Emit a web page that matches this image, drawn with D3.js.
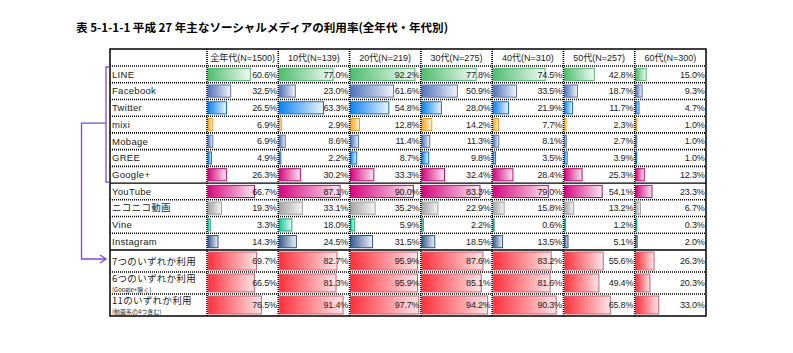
<!DOCTYPE html>
<html>
<head>
<meta charset="utf-8">
<title>ソーシャルメディアの利用率</title>
<script src="https://cdn.jsdelivr.net/npm/d3@7/dist/d3.min.js"></script>
<style>
  body { margin: 0; background: #fff; }
  text { font-family: "Liberation Sans", "Noto Sans CJK JP", sans-serif; fill: #222; }
  .jp { font-family: "Noto Sans CJK JP", sans-serif; }
</style>
</head>
<body>
<div class="container"></div>
<script>

// ---- data ----
var titleText = "表 5-1-1-1  平成 27 年主なソーシャルメディアの利用率(全年代・年代別)";
var columns = ["全年代(N=1500)", "10代(N=139)", "20代(N=219)", "30代(N=275)", "40代(N=310)", "50代(N=257)", "60代(N=300)"];
var services = ["LINE", "Facebook", "Twitter", "mixi", "Mobage", "GREE", "Google+", "YouTube", "ニコニコ動画", "Vine", "Instagram"];
var summaries = ["7つのいずれか利用", "6つのいずれか利用", "11のいずれか利用"];
var summaryNotes = ["", "(Google+除く)", "(動画系の4つ含む)"];

var values = {
  "LINE":        [60.6, 77.0, 92.2, 77.8, 74.5, 42.8, 15.0],
  "Facebook":    [32.5, 23.0, 61.6, 50.9, 33.5, 18.7, 9.3],
  "Twitter":     [26.5, 63.3, 54.8, 28.0, 21.9, 11.7, 4.7],
  "mixi":        [6.9, 2.9, 12.8, 14.2, 7.7, 2.3, 1.0],
  "Mobage":      [6.9, 8.6, 11.4, 11.3, 8.1, 2.7, 1.0],
  "GREE":        [4.9, 2.2, 8.7, 9.8, 3.5, 3.9, 1.0],
  "Google+":     [26.3, 30.2, 33.3, 32.4, 28.4, 25.3, 12.3],
  "YouTube":     [66.7, 87.1, 90.0, 83.3, 79.0, 54.1, 23.3],
  "ニコニコ動画": [19.3, 33.1, 35.2, 22.9, 15.8, 13.2, 6.7],
  "Vine":        [3.3, 18.0, 5.9, 2.2, 0.6, 1.2, 0.3],
  "Instagram":   [14.3, 24.5, 31.5, 18.5, 13.5, 5.1, 2.0],
  "7つのいずれか利用":  [69.7, 82.7, 95.9, 87.6, 83.2, 55.6, 26.3],
  "6つのいずれか利用":  [66.5, 81.3, 95.9, 85.1, 81.6, 49.4, 20.3],
  "11のいずれか利用":   [76.5, 91.4, 97.7, 94.2, 90.3, 65.8, 33.0]
};

// colour per row: [gradient start, gradient end, border]
var colors = {
  "LINE":        ["#4dbd6e", "#f4fbf6", "#58b574"],
  "Facebook":    ["#4f72b8", "#f2f5fb", "#5a78b4"],
  "Twitter":     ["#0a84ee", "#eef6fe", "#1a6fc4"],
  "mixi":        ["#f6a81e", "#fff4dc", "#e8a030"],
  "Mobage":      ["#4f72b8", "#f2f5fb", "#5a78b4"],
  "GREE":        ["#0a84ee", "#eef6fe", "#1a6fc4"],
  "Google+":     ["#d4067e", "#fbe8f2", "#b4126e"],
  "YouTube":     ["#d4067e", "#fbe8f2", "#b4126e"],
  "ニコニコ動画": ["#a6a6a6", "#f6f6f6", "#a0a0a0"],
  "Vine":        ["#14c69a", "#e8faf5", "#1aa884"],
  "Instagram":   ["#365b93", "#f0f3f8", "#345485"],
  "7つのいずれか利用": ["#ff2f3a", "#ffe6e8", "#c96474"],
  "6つのいずれか利用": ["#ff2f3a", "#ffe6e8", "#c96474"],
  "11のいずれか利用":  ["#ff2f3a", "#ffe6e8", "#c96474"]
};

var svgWidth = 793, svgHeight = 353;
var tbl = {left: 110, labelRight: 207, right: 706, top: 49, headBottom: 66, mainBottom: 250, bottom: 316};

var svg = d3.select('.container')
  .append('svg')
  .attr('width', svgWidth)
  .attr('height', svgHeight);

var defs = svg.append('defs');
Object.keys(colors).forEach(function(k, i) {
  var g = defs.append('linearGradient')
    .attr('id', 'grad' + i)
    .attr('x1', 0).attr('x2', 1).attr('y1', 0).attr('y2', 0);
  g.append('stop').attr('offset', '0%').attr('stop-color', colors[k][0]);
  g.append('stop').attr('offset', '100%').attr('stop-color', colors[k][1]);
});
function gradId(k) { return 'url(#grad' + Object.keys(colors).indexOf(k) + ')'; }

// scales
var x = d3.scaleBand().domain(columns).range([tbl.labelRight, tbl.right]);
var yMain = d3.scaleBand().domain(services).range([tbl.headBottom, tbl.mainBottom]);
var ySum = d3.scaleBand().domain(summaries).range([tbl.mainBottom, tbl.bottom]);
var barLen = d3.scaleLinear().domain([0, 100]).range([0, x.bandwidth() - 1.5]);

var allRows = services.concat(summaries);
function isMain(k) { return services.indexOf(k) >= 0; }
function rowTop(k) { return isMain(k) ? yMain(k) : ySum(k); }
function rowH(k) { return isMain(k) ? yMain.bandwidth() : ySum.bandwidth(); }

// title
svg.append('text')
  .attr('class', 'jp')
  .attr('x', 76)
  .attr('y', 32)
  .attr('font-size', 11.5)
  .attr('font-weight', 'bold')
  .attr('textLength', 372)
  .attr('lengthAdjust', 'spacingAndGlyphs')
  .style('fill', '#000')
  .text(titleText);

// bars
var cells = [];
allRows.forEach(function(k) {
  values[k].forEach(function(v, j) { cells.push({row: k, col: columns[j], v: v}); });
});

svg.append('g').selectAll('rect')
  .data(cells)
  .enter().append('rect')
  .attr('x', d => x(d.col) + 1)
  .attr('y', d => rowTop(d.row) + (isMain(d.row) ? 2.3 : 2))
  .attr('width', d => Math.max(barLen(d.v), 1))
  .attr('height', d => rowH(d.row) - (isMain(d.row) ? 4.6 : 4))
  .attr('fill', d => gradId(d.row))
  .attr('stroke', d => colors[d.row][2])
  .attr('stroke-width', 1);

// values
svg.append('g').selectAll('text')
  .data(cells)
  .enter().append('text')
  .attr('x', d => x(d.col) + x.bandwidth() - 1.5)
  .attr('y', d => rowTop(d.row) + rowH(d.row) / 2 + 3.2)
  .attr('text-anchor', 'end')
  .attr('font-size', 9)
  .attr('letter-spacing', -0.2)
  .text(d => d.v.toFixed(1) + '%');

// row labels
svg.append('g').selectAll('text')
  .data(services)
  .enter().append('text')
  .attr('x', tbl.left + 2)
  .attr('y', d => yMain(d) + yMain.bandwidth() / 2 + 3.3)
  .attr('font-size', 9.5)
  .attr('letter-spacing', 0.3)
  .text(d => d);

svg.append('g').selectAll('text')
  .data(summaries)
  .enter().append('text')
  .attr('class', 'jp')
  .attr('x', tbl.left + 2)
  .attr('y', (d, i) => i == 0 ? ySum(d) + ySum.bandwidth() / 2 + 3.6 : ySum(d) + 10)
  .attr('font-size', 9.5)
  .attr('letter-spacing', 0.3)
  .text(d => d);

svg.append('g').selectAll('text')
  .data(summaries)
  .enter().append('text')
  .attr('class', 'jp')
  .attr('x', tbl.left + 2)
  .attr('y', d => ySum(d) + ySum.bandwidth() - 2.2)
  .attr('font-size', 6)
  .text((d, i) => summaryNotes[i]);

// header
svg.append('g').selectAll('text')
  .data(columns)
  .enter().append('text')
  .attr('x', d => x(d) + x.bandwidth() / 2)
  .attr('y', (tbl.top + tbl.headBottom) / 2 + 3.3)
  .attr('text-anchor', 'middle')
  .attr('font-size', 9)
  .text(d => d);

// grid lines
var grid = svg.append('g').attr('fill', 'none');
var solidAt = [yMain('YouTube'), tbl.mainBottom];
var rowLines = [tbl.headBottom].concat(allRows.slice(1).map(rowTop));
grid.selectAll('line.h')
  .data(rowLines)
  .enter().append('line')
  .attr('x1', tbl.left).attr('x2', tbl.right)
  .attr('y1', d => d).attr('y2', d => d)
  .attr('stroke', '#000')
  .attr('stroke-width', d => solidAt.indexOf(d) >= 0 ? 1.3 : 1.6)
  .attr('stroke-dasharray', d => solidAt.indexOf(d) >= 0 ? null : '1,1');

grid.selectAll('line.v')
  .data(columns)
  .enter().append('line')
  .attr('x1', d => x(d)).attr('x2', d => x(d))
  .attr('y1', tbl.top).attr('y2', tbl.bottom)
  .attr('stroke', '#000')
  .attr('stroke-width', 1.6)
  .attr('stroke-dasharray', '1,1');

grid.append('rect')
  .attr('x', tbl.left).attr('y', tbl.top)
  .attr('width', tbl.right - tbl.left).attr('height', tbl.bottom - tbl.top)
  .attr('stroke', '#000')
  .attr('stroke-width', 1.5);

// bracket and arrow
var purple = '#8046e0';
var br = svg.append('g').attr('fill', 'none').attr('stroke', purple).attr('stroke-width', 1.3);
var bTop = yMain('LINE') + 1, bBot = yMain('Google+') + yMain.bandwidth() - 1;
br.append('path')
  .attr('d', `M${tbl.left},${bTop}H106V${bBot}H${tbl.left}`);
var midY = yMain('mixi') + 7;
var arrowY = ySum('7つのいずれか利用') + 9;
br.append('path')
  .attr('d', `M106,${midY}H81.5V${arrowY}H106`);
br.append('path')
  .attr('d', `M100,${arrowY - 4}L106,${arrowY}L100,${arrowY + 4}`);

</script>
</body>
</html>
